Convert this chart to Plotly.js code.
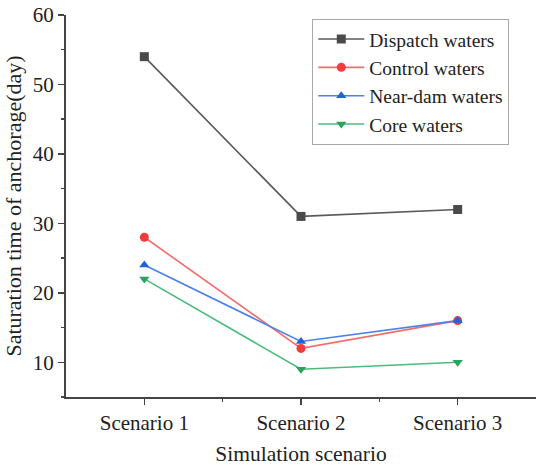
<!DOCTYPE html>
<html><head><meta charset="utf-8">
<script src="https://cdn.plot.ly/plotly-3.0.1.min.js"></script>
<style>html,body{margin:0;padding:0;background:#fff}#c{width:536px;height:468px}</style>
</head><body><div id="c"></div>
<script>
const scenarios = ["Scenario 1", "Scenario 2", "Scenario 3"];
const xPos = [1, 2, 3];
const dispatch = [54, 31, 32];
const control = [28, 12, 16];
const nearDam = [24, 13, 16];
const core = [22, 9, 10];

const F = "Liberation Serif, Times New Roman, serif";
function tr(name, y, lc, mc, sym) {
  return {x: xPos, y: y, name: name, type: "scatter", mode: "lines+markers",
    line: {color: lc, width: 1.6}, marker: {color: mc, symbol: sym, size: 9}};
}
const data = [
  tr("Dispatch waters", dispatch, "#5a5a5a", "#4a4a4a", "square"),
  tr("Control waters", control, "#f76b6b", "#f23c3c", "circle"),
  tr("Near-dam waters", nearDam, "#4a83e8", "#1f62e0", "triangle-up"),
  tr("Core waters", core, "#4cbb7a", "#2aa35e", "triangle-down")
];
const layout = {
  width: 536, height: 468,
  margin: {l: 66, r: 0, t: 15, b: 71},
  paper_bgcolor: "#fff", plot_bgcolor: "#fff",
  font: {family: F, color: "#222", size: 21},
  showlegend: true,
  legend: {x: 0.524, y: 0.99, xanchor: "left", yanchor: "top",
    bordercolor: "#aaa", borderwidth: 1, bgcolor: "#fff", itemwidth: 46,
    font: {family: F, size: 19.5, color: "#222"}, tracegroupgap: 0},
  xaxis: {range: [0.5, 3.5], tickmode: "array", tickvals: xPos, ticktext: scenarios,
    showgrid: false, zeroline: false, showline: true, linecolor: "#444", linewidth: 2,
    ticks: "outside", ticklen: 6, tickwidth: 1.5, tickcolor: "#444",
    minor: {tickmode: "array", tickvals: [1.5, 2.5], ticks: "outside", ticklen: 3, tickwidth: 1.5, tickcolor: "#444"},
    tickfont: {family: F, size: 21, color: "#222"},
    title: {text: "Simulation scenario", font: {family: F, size: 21.5, color: "#222"}, standoff: 12}},
  yaxis: {range: [5, 60], tickmode: "linear", tick0: 10, dtick: 10,
    showgrid: false, zeroline: false, showline: true, linecolor: "#444", linewidth: 2,
    ticks: "outside", ticklen: 6, tickwidth: 1.5, tickcolor: "#444",
    minor: {tickmode: "linear", tick0: 5, dtick: 5, ticks: "outside", ticklen: 3, tickwidth: 1.5, tickcolor: "#444"},
    tickfont: {family: F, size: 21, color: "#222"},
    title: {text: "Saturation time of anchorage(day)", font: {family: F, size: 22, color: "#222"}, standoff: 5}}
};
Plotly.newPlot("c", data, layout, {displayModeBar: false, staticPlot: true});
</script></body></html>
